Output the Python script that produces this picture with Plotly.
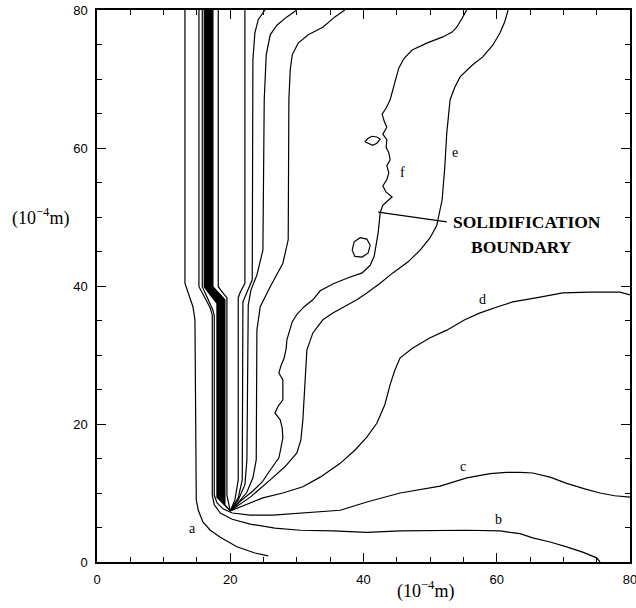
import plotly.graph_objects as go

# ---- isotherm data (units of 1e-4 m) ----
a_x = [13.2, 13.2, 13.8, 14.4, 14.7, 14.9, 15.2, 15.9, 17.0, 18.5, 21.0, 23.7, 25.7]
a_y = [80, 40.4, 38.7, 37.0, 35.1, 9.0, 7.5, 5.8, 4.6, 3.6, 2.2, 1.3, 0.9]

b_x = [15.3, 15.3, 16.2, 17.0, 17.3, 17.3, 17.6, 18.5, 20.3, 23.0, 26.7, 30.5, 35.4, 40.5,
       45.5, 50.4, 55.5, 60.5, 63.5, 65.4, 68.0, 70.5, 73.0, 75.0, 75.5]
b_y = [80, 39.9, 38.3, 36.8, 35.8, 9.7, 8.3, 7.1, 6.2, 5.5, 4.9, 4.6, 4.5, 4.3,
       4.5, 4.6, 4.6, 4.5, 4.1, 3.5, 2.9, 2.2, 1.4, 0.6, 0.0]

c_x = [15.8, 15.8, 16.7, 17.4, 17.6, 17.6, 18.0, 18.9, 20.3, 23.0, 26.4, 30.5, 36.5, 40.5,
       45.5, 51.5, 55.5, 59.0, 61.5, 63.5, 65.4, 68.0, 70.5, 73.2, 75.5, 77.7, 80.0]
c_y = [80, 39.9, 38.0, 36.5, 35.7, 9.7, 8.6, 7.7, 7.1, 6.8, 6.8, 7.1, 7.5, 8.7,
       10.0, 11.0, 12.2, 12.8, 13.0, 13.0, 12.9, 12.3, 11.4, 10.6, 10.0, 9.6, 9.4]

band_left_x = [16.1, 16.1, 17.0, 18.0, 18.0, 20.0]
band_left_y = [80, 39.9, 38.7, 37.5, 9.4, 7.4]
band_right_x = [17.4, 17.4, 18.3, 19.2, 19.2, 20.0]
band_right_y = [80, 39.9, 39.0, 38.0, 8.3, 7.4]

l4_x = [18.2, 18.2, 18.8, 19.5, 19.5, 19.8, 20.0]
l4_y = [80, 39.9, 39.1, 38.3, 9.7, 8.3, 7.4]

l5_x = [22.2, 22.2, 21.5, 21.2, 21.2, 20.7, 20.0]
l5_y = [80, 40.4, 39.1, 38.3, 11.9, 9.0, 7.4]

l6_x = [25.2, 24.2, 23.7, 23.4, 23.3, 22.5, 21.9, 21.8, 21.2, 20.0]
l6_y = [80, 78.6, 76.7, 72.8, 40.9, 39.1, 37.7, 11.9, 9.3, 7.4]

l7_x = [30.0, 28.5, 27.0, 26.0, 25.4, 25.1, 24.9, 24.0, 23.1, 22.7, 22.5, 22.2, 21.2, 20.0]
l7_y = [80, 79.0, 77.8, 76.4, 73.5, 67.0, 45.2, 41.6, 39.4, 37.2, 14.8, 11.2, 9.0, 7.4]

l8_x = [37.2, 35.7, 33.9, 31.7, 30.2, 29.3, 29.0, 28.8, 28.7, 27.9, 26.0, 24.5, 24.0,
        23.9, 23.4, 22.5, 21.2, 20.0]
l8_y = [80, 79.0, 77.5, 76.4, 75.2, 73.5, 71.3, 67.0, 46.7, 43.3, 39.9, 37.0, 33.6,
        14.8, 12.2, 10.1, 8.6, 7.4]

d_x = [20.0, 22.2, 24.9, 27.9, 30.9, 33.5, 36.5, 38.7, 40.5, 42.0, 43.2, 44.0, 44.7, 45.5,
       46.5, 47.4, 50.0, 52.5, 55.2, 57.5, 60.5, 62.4, 66.5, 69.9, 74.0, 78.5, 80.0]
d_y = [7.4, 8.3, 9.3, 10.0, 10.9, 12.3, 14.3, 16.2, 18.1, 20.1, 22.8, 25.7, 27.8, 29.6,
       30.4, 31.0, 32.5, 33.6, 35.1, 36.1, 37.1, 37.7, 38.4, 39.0, 39.1, 39.1, 38.7]

e_x = [20.0, 23.0, 26.0, 28.2, 30.0, 30.6, 30.9, 31.2, 31.5, 32.4, 33.9, 35.4, 39.0, 40.5,
       42.5, 44.4, 46.7, 48.5, 50.0, 51.0, 51.8, 52.2, 52.5, 53.0, 53.7, 54.5, 56.3, 57.9,
       59.4, 60.5, 61.2, 61.7]
e_y = [7.4, 9.4, 11.9, 13.8, 15.8, 17.7, 20.6, 26.4, 30.7, 33.2, 35.1, 36.1, 38.0, 39.0,
       40.4, 41.9, 43.5, 45.2, 47.0, 48.8, 52.5, 57.2, 62.2, 67.0, 68.8, 70.3, 72.0, 73.2,
       74.9, 76.7, 78.3, 80.0]

f_x = [20.0, 21.5, 23.4, 24.8, 25.7, 26.6, 27.3, 27.6, 27.9, 27.8, 27.5, 26.7, 27.2, 27.9,
       27.9, 27.9, 27.3, 27.6, 28.1, 28.4, 28.5, 28.8, 29.3, 30.0, 31.1, 32.4, 33.5, 35.4,
       37.7, 39.8, 41.0, 41.6, 41.9, 42.2, 42.5, 42.9, 43.8, 44.3, 43.4, 42.9, 43.5, 43.8,
       43.5, 44.0, 43.8, 43.4, 43.5, 42.9, 43.5, 43.1, 42.8, 43.4, 44.0, 44.4, 44.9, 45.3,
       46.1, 47.3, 49.5, 51.9, 53.3, 54.0, 54.8, 55.5]
f_y = [7.4, 8.8, 10.3, 11.6, 12.9, 14.1, 15.1, 16.5, 18.0, 19.4, 20.6, 21.6, 22.6, 23.5,
       24.9, 26.4, 27.4, 28.4, 29.6, 31.0, 32.2, 33.3, 34.8, 35.9, 37.0, 38.0, 39.3, 40.3,
       41.2, 41.9, 43.0, 44.3, 45.8, 47.7, 50.6, 51.7, 52.5, 52.9, 53.6, 54.5, 55.4, 56.4,
       57.4, 58.3, 59.3, 60.1, 61.2, 62.0, 63.0, 63.9, 64.9, 65.8, 67.0, 68.4, 70.1, 71.6,
       73.0, 74.2, 75.2, 76.1, 76.8, 77.5, 78.8, 80.0]

island1_x = [40.2, 40.7, 41.3, 42.0, 42.5, 42.0, 41.4, 40.8, 40.2]
island1_y = [60.9, 61.4, 61.7, 61.6, 61.3, 60.7, 60.4, 60.6, 60.9]
island2_x = [38.3, 38.6, 39.5, 40.5, 41.0, 40.7, 39.8, 38.7, 38.3]
island2_y = [45.2, 46.4, 47.0, 46.8, 45.9, 44.8, 44.2, 44.3, 45.2]

pointer_x = [42.2, 52.5]
pointer_y = [50.7, 49.3]

curve_labels = ["a", "b", "c", "d", "e", "f"]
label_x = [14.4, 60.2, 54.9, 57.9, 53.7, 45.8]
label_y = [4.9, 6.1, 13.9, 38.1, 59.3, 56.4]

tick_vals = [0, 20, 40, 60, 80]

fig = go.Figure()

# keyhole band (filled)
fig.add_trace(go.Scatter(
    x=band_left_x + band_right_x[::-1], y=band_left_y + band_right_y[::-1],
    mode="lines", fill="toself", fillcolor="black",
    line=dict(color="black", width=1.2), hoverinfo="skip", showlegend=False))

lines = [(a_x, a_y), (b_x, b_y), (c_x, c_y), (l4_x, l4_y), (l5_x, l5_y), (l6_x, l6_y),
         (l7_x, l7_y), (l8_x, l8_y), (d_x, d_y), (e_x, e_y), (f_x, f_y),
         (island1_x, island1_y), (island2_x, island2_y), (pointer_x, pointer_y)]
for xs, ys in lines:
    fig.add_trace(go.Scatter(x=xs, y=ys, mode="lines",
                             line=dict(color="black", width=1.2),
                             hoverinfo="skip", showlegend=False, cliponaxis=False))

serif = "Liberation Serif"
for t, x, y in zip(curve_labels, label_x, label_y):
    fig.add_annotation(x=x, y=y, text=t, showarrow=False,
                       font=dict(family=serif, size=14, color="black"))

fig.add_annotation(x=53.2, y=49.3, text="SOLIDIFICATION", showarrow=False,
                   xanchor="left", yanchor="middle",
                   font=dict(family=serif, size=17.5, color="black", weight="bold"))
fig.add_annotation(x=55.9, y=45.6, text="BOUNDARY", showarrow=False,
                   xanchor="left", yanchor="middle",
                   font=dict(family=serif, size=17.5, color="black", weight="bold"))

# axis titles
fig.add_annotation(xref="paper", yref="paper", x=(425 - 97) / 533, y=(562 - 590) / 552,
                   text="(10<sup>\u22124</sup>m)", showarrow=False,
                   xanchor="center", yanchor="middle",
                   font=dict(family=serif, size=18, color="black"))
fig.add_annotation(xref="paper", yref="paper", x=(40 - 97) / 533, y=(562 - 217) / 552,
                   text="(10<sup>\u22124</sup>m)", showarrow=False,
                   xanchor="center", yanchor="middle",
                   font=dict(family=serif, size=18, color="black"))

axis_common = dict(
    range=[0, 80], tickvals=tick_vals, ticks="inside", ticklen=9, tickwidth=1,
    tickcolor="black", showline=True, linecolor="black", linewidth=1.5,
    mirror="ticks", showgrid=False, zeroline=False, automargin=False,
    minor=dict(ticks="inside", ticklen=5, dtick=5, tickcolor="black", tickwidth=1,
               showgrid=False),
    tickfont=dict(family="Liberation Sans", size=13, color="black"),
    ticklabelstandoff=5, ticklabeloverflow="allow",
)

fig.update_layout(
    width=636, height=608,
    margin=dict(l=97, r=6, t=10, b=46, autoexpand=False),
    paper_bgcolor="white", plot_bgcolor="white",
    xaxis=axis_common, yaxis=axis_common,
    showlegend=False,
)

fig.write_html("out.html", config={"displayModeBar": False},
               post_script="document.body.style.margin='0';document.body.style.overflow='hidden';")
